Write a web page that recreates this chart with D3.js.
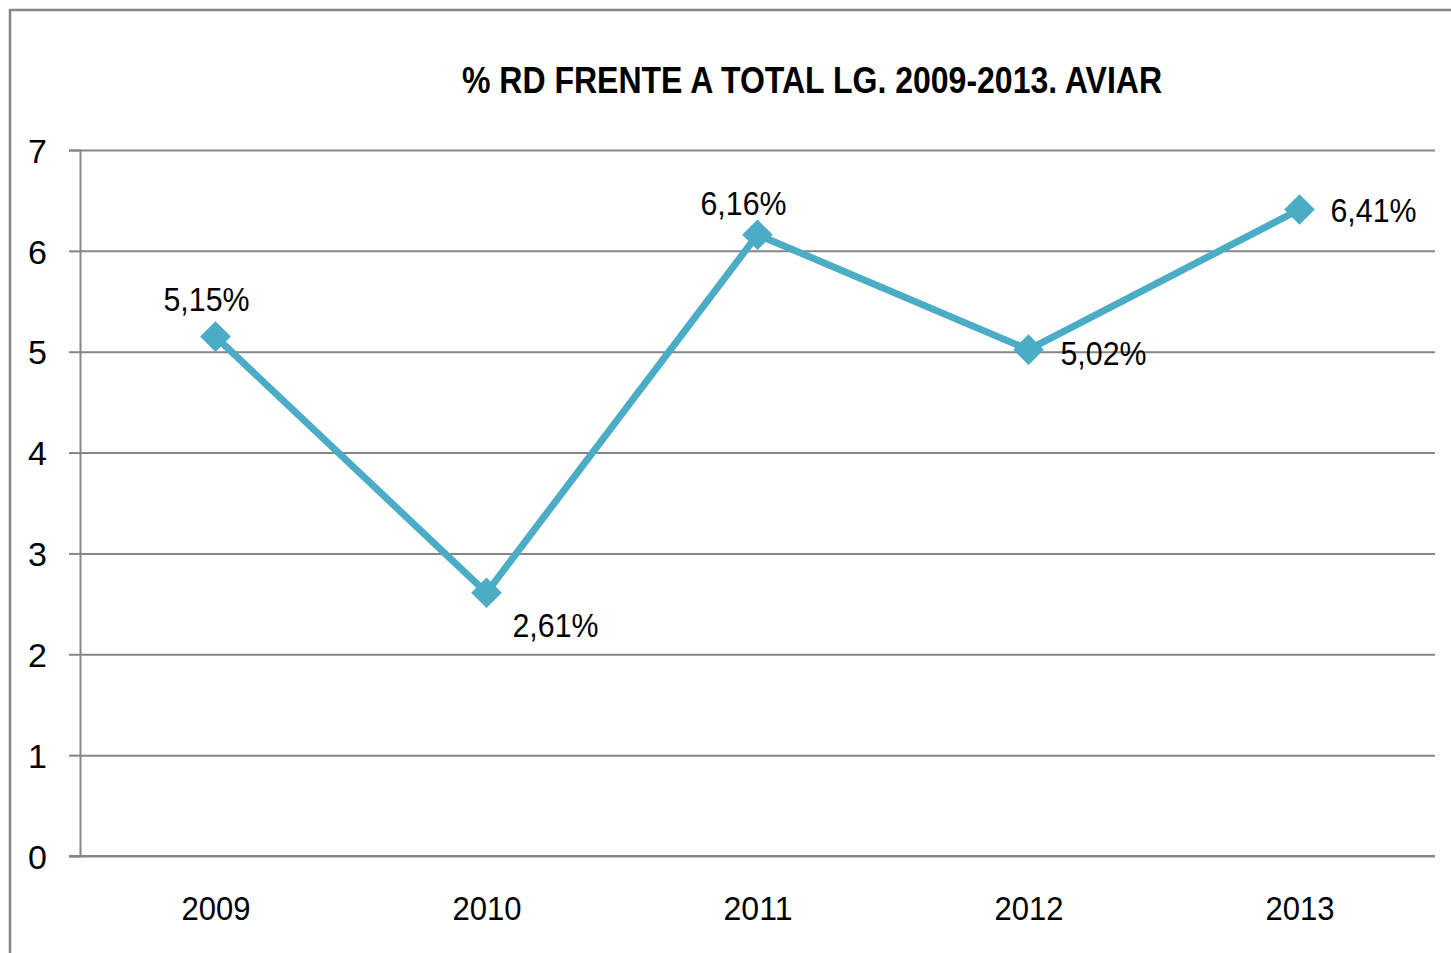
<!DOCTYPE html>
<html><head><meta charset="utf-8">
<script src="https://cdn.jsdelivr.net/npm/d3@7"></script>
<style>body{margin:0;background:#fff}svg{display:block}</style>
</head><body>
<svg id="c" width="1451" height="953"></svg>
<script>
const years = ["2009","2010","2011","2012","2013"];
const values = [5.15, 2.61, 6.16, 5.02, 6.41];
const labels = ["5,15%","2,61%","6,16%","5,02%","6,41%"];
const yTicks = [0,1,2,3,4,5,6,7];
const title = "% RD FRENTE A TOTAL LG. 2009-2013. AVIAR";

(function(){
const svg = d3.select("#c");
const font = "'Liberation Sans', Arial, sans-serif";
const grey = "#868686";
const blue = "#4BACC6";

// outer chart border
svg.append("path").attr("d","M10,960V10H1460").attr("fill","none").attr("stroke",grey).attr("stroke-width",2.5);

const pL = 80, pR = 1435, pT = 150, pB = 856;
const x = d3.scalePoint().domain(years).range([pL,pR]).padding(0.5);
const y = d3.scaleLinear().domain([0,7]).range([pB,pT]);

// gridlines
svg.append("g").attr("transform",`translate(${pL},0)`)
  .call(d3.axisLeft(y).tickValues(yTicks).tickSize(-(pR-pL)).tickFormat(""))
  .call(g=>g.select(".domain").remove())
  .call(g=>g.selectAll("line").attr("stroke",grey).attr("stroke-width",2));

// y axis
svg.append("g").attr("transform",`translate(${pL},0)`)
  .call(d3.axisLeft(y).tickValues(yTicks).tickFormat(d3.format("d")).tickSize(11).tickPadding(22))
  .call(g=>g.select(".domain").attr("stroke",grey).attr("stroke-width",2))
  .call(g=>g.selectAll("line").attr("stroke",grey).attr("stroke-width",2))
  .call(g=>g.selectAll("text").attr("font-family",font).attr("font-size",34).attr("fill","#000").attr("dy","0.36em"));

// x axis
svg.append("g").attr("transform",`translate(0,${pB})`)
  .call(d3.axisBottom(x).tickSize(0).tickPadding(40))
  .call(g=>g.select(".domain").attr("stroke",grey).attr("stroke-width",2).attr("d",`M${pL-11},0H${pR}`))
  .call(g=>g.selectAll("text").attr("font-family",font).attr("font-size",34).attr("fill","#000")
    .attr("textLength",69).attr("lengthAdjust","spacingAndGlyphs"));

// title
svg.append("text").attr("x",812).attr("y",93).attr("text-anchor","middle")
  .attr("font-family",font).attr("font-weight","bold").attr("font-size",37)
  .attr("textLength",700).attr("lengthAdjust","spacingAndGlyphs").text(title);

const data = years.map((yr,i)=>({yr, v:values[i], l:labels[i]}));

// line
svg.append("path").datum(data)
  .attr("d", d3.line().x(d=>x(d.yr)).y(d=>y(d.v)))
  .attr("fill","none").attr("stroke",blue).attr("stroke-width",7).attr("stroke-linejoin","round");

// markers
svg.selectAll(".m").data(data).join("path").attr("class","m")
  .attr("transform",d=>`translate(${x(d.yr)},${y(d.v)})`)
  .attr("d", d3.symbol(d3.symbolDiamond2, 600))
  .attr("fill",blue);

// data labels: offsets relative to point
const offs = [[-9,-26,"middle"],[26,44,"start"],[-14,-20,"middle"],[32,15,"start"],[31,12,"start"]];
svg.selectAll(".dl").data(data).join("text").attr("class","dl")
  .attr("x",(d,i)=>x(d.yr)+offs[i][0])
  .attr("y",(d,i)=>y(d.v)+offs[i][1])
  .attr("text-anchor",(d,i)=>offs[i][2])
  .attr("font-family",font).attr("font-size",33).attr("fill","#000")
  .attr("textLength",86).attr("lengthAdjust","spacingAndGlyphs")
  .text(d=>d.l);
})();
</script>
</body></html>
